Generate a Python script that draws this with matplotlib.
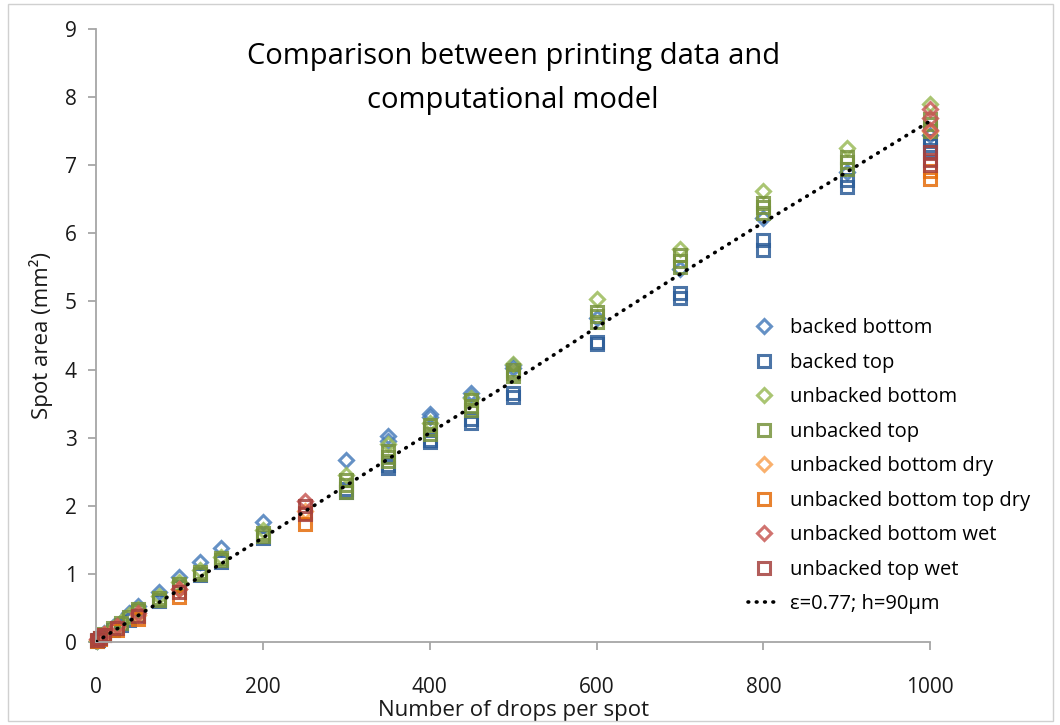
import matplotlib.pyplot as plt
from matplotlib.patches import Rectangle

plt.rcParams['font.family'] = ['Open Sans', 'DejaVu Sans']

# backed bottom (blue diamonds)
bb_x = [1, 2, 5, 10, 20, 30, 40, 50, 75, 100, 125, 150, 200, 300, 350, 350, 400, 400,
        450, 450, 500, 500, 600, 700, 800, 900, 1000]
bb_y = [0.02, 0.04, 0.08, 0.13, 0.22, 0.30, 0.42, 0.53, 0.73, 0.96, 1.17, 1.38, 1.76,
        2.67, 3.03, 2.95, 3.35, 3.30, 3.66, 3.60, 4.07, 4.02, 4.75, 5.47, 6.22, 6.90, 7.45]

# backed top (blue squares)
bt_x = [1, 2, 5, 10, 20, 30, 40, 50, 75, 100, 125, 150, 200, 300, 300, 350, 350, 400, 400,
        450, 450, 500, 500, 600, 600, 700, 700, 800, 800, 900, 900, 1000, 1000, 1000]
bt_y = [0.02, 0.03, 0.06, 0.10, 0.18, 0.25, 0.33, 0.40, 0.60, 0.80, 0.98, 1.18, 1.52,
        2.20, 2.25, 2.55, 2.60, 2.93, 2.97, 3.22, 3.27, 3.60, 3.65, 4.38, 4.40, 5.05, 5.12,
        5.75, 5.90, 6.68, 6.78, 7.22, 7.30, 7.36]

# unbacked bottom (green diamonds)
ub_x = [1, 2, 5, 10, 20, 30, 40, 50, 75, 100, 125, 150, 200, 300, 350, 400, 450, 500,
        600, 700, 800, 900, 1000]
ub_y = [0.02, 0.04, 0.07, 0.12, 0.20, 0.30, 0.40, 0.48, 0.68, 0.88, 1.05, 1.25, 1.65,
        2.45, 2.90, 3.22, 3.58, 4.08, 5.04, 5.77, 6.62, 7.25, 7.90]

# unbacked top (green squares)
ut_x = [5, 10, 20, 30, 40, 50, 50, 75, 75, 100, 100, 125, 125, 150, 150, 200, 200,
        300, 300, 300, 350, 350, 350, 400, 400, 400, 450, 450, 450, 500, 500, 500,
        600, 600, 600, 700, 700, 700, 800, 800, 800, 900, 900, 900, 1000, 1000, 1000]
ut_y = [0.06, 0.11, 0.20, 0.28, 0.37, 0.45, 0.48, 0.62, 0.65, 0.80, 0.85, 1.00, 1.03,
        1.20, 1.23, 1.55, 1.60, 2.20, 2.30, 2.38, 2.65, 2.72, 2.80, 3.05, 3.12, 3.18,
        3.40, 3.47, 3.55, 3.90, 3.95, 4.00, 4.70, 4.78, 4.85, 5.50, 5.60, 5.68,
        6.30, 6.38, 6.45, 6.95, 7.05, 7.12, 7.50, 7.60, 7.68]

# unbacked bottom dry (light orange diamonds)
ubd_x = [1, 5, 10, 25, 50, 100, 250, 1000]
ubd_y = [0.03, 0.06, 0.12, 0.22, 0.40, 0.78, 1.92, 7.50]

# unbacked bottom top dry (orange squares)
ubtd_x = [1, 5, 10, 25, 50, 100, 250, 250, 1000, 1000]
ubtd_y = [0.02, 0.05, 0.10, 0.18, 0.34, 0.66, 1.73, 1.90, 6.80, 6.92]

# unbacked bottom wet (red diamonds)
ubw_x = [1, 5, 10, 25, 50, 100, 250, 1000, 1000, 1000]
ubw_y = [0.04, 0.08, 0.12, 0.23, 0.42, 0.78, 2.07, 7.52, 7.70, 7.82]

# unbacked top wet (red squares)
utw_x = [1, 5, 10, 25, 50, 100, 250, 250, 1000, 1000, 1000]
utw_y = [0.03, 0.06, 0.10, 0.20, 0.38, 0.74, 1.88, 2.00, 7.00, 7.08, 7.20]

# model curve
model_x = [0, 100, 200, 300, 400, 500, 600, 700, 800, 900, 1000]
model_y = [0, 0.77, 1.53, 2.30, 3.07, 3.83, 4.62, 5.40, 6.16, 6.90, 7.65]

series = [
    (bb_x, bb_y, 'D', '#4A7EBB', 'backed bottom', 7),
    (bt_x, bt_y, 's', '#2C5D98', 'backed top', 8.5),
    (ub_x, ub_y, 'D', '#9BBB59', 'unbacked bottom', 7),
    (ut_x, ut_y, 's', '#77933C', 'unbacked top', 8.5),
    (ubd_x, ubd_y, 'D', '#F9A354', 'unbacked bottom dry', 7),
    (ubtd_x, ubtd_y, 's', '#E46C0A', 'unbacked bottom top dry', 8.5),
    (ubw_x, ubw_y, 'D', '#C85A56', 'unbacked bottom wet', 7),
    (utw_x, utw_y, 's', '#A5403D', 'unbacked top wet', 8.5),
]

fig = plt.figure(figsize=(10.6, 7.25), dpi=100)
fig.patches.append(Rectangle((0.008, 0.006), 0.985, 0.988, transform=fig.transFigure,
                             fill=False, edgecolor='#D0D0D0', linewidth=1))
ax = fig.add_axes([0.0906, 0.1145, 0.787, 0.8455])

for xs, ys, mk, col, lab, ms in series:
    ax.plot(xs, ys, linestyle='none', marker=mk, markersize=ms, markerfacecolor='none',
            markeredgecolor=col, markeredgewidth=2.2, alpha=0.85, label=lab, clip_on=False)

ax.plot(model_x, model_y, color='black', linewidth=2.6, linestyle=(0, (0.2, 2.1)),
        dash_capstyle='round', label='\u03b5=0.77; h=90\u00b5m', zorder=3)

ax.set_xlim(0, 1000)
ax.set_ylim(0, 9)
ax.set_xticks([0, 200, 400, 600, 800, 1000])
ax.set_yticks(range(10))
ax.spines['top'].set_visible(False)
ax.spines['right'].set_visible(False)
for s in ['left', 'bottom']:
    ax.spines[s].set_color('#A6A6A6')
    ax.spines[s].set_linewidth(1.3)
ax.tick_params(axis='both', which='major', labelsize=15, color='#A6A6A6', length=6,
               width=1.3, labelcolor='#1A1A1A', pad=8)
ax.tick_params(axis='x', pad=19)

ax.set_xlabel('Number of drops per spot', fontsize=16, color='#1A1A1A', labelpad=2)
ax.set_ylabel('Spot area (mm\u00b2)', fontsize=16, color='#1A1A1A', labelpad=8)

ax.text(0.5, 0.978, 'Comparison between printing data and\ncomputational model',
        transform=ax.transAxes, ha='center', va='top', fontsize=21, linespacing=1.65,
        color='black')

ax.legend(loc='upper left', bbox_to_anchor=(0.698, 0.572), bbox_transform=fig.transFigure,
          frameon=False, fontsize=14.5, handlelength=1.6, handletextpad=0.5,
          labelspacing=0.72, borderaxespad=0)

fig.savefig('out.png', dpi=100)
